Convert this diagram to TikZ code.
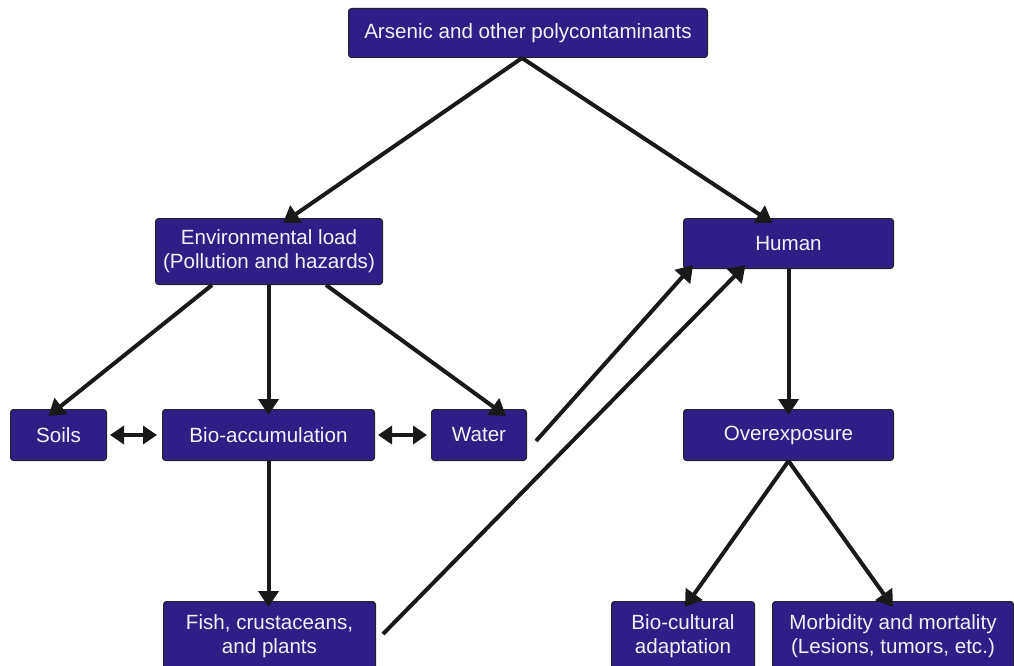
\documentclass[tikz,border=0pt]{standalone}
\usepackage{fontspec}
\setmainfont{Liberation Sans}
\usetikzlibrary{arrows.meta,calc}
\definecolor{boxblue}{RGB}{46,30,134}
\definecolor{boxtext}{RGB}{242,242,246}
\definecolor{boxedge}{RGB}{34,34,40}
\begin{document}
\begin{tikzpicture}[x=1pt,y=-1pt,
  box/.style={draw=boxedge, line width=1pt, fill=boxblue, rounded corners=3pt,
    text=boxtext, font=\fontsize{20.6}{24}\selectfont, align=center,
    inner sep=0pt, anchor=north west},
  conn/.style={line width=4pt, draw=black!90, -{Triangle[length=16pt,width=20pt]}},
  dconn/.style={line width=4pt, draw=black!90, {Triangle[length=14pt,width=18pt]}-{Triangle[length=14pt,width=18pt]}}]
\useasboundingbox (0,0) rectangle (1014,666);
\begin{scope}
\clip (0,0) rectangle (1014,666);
\node[box, minimum width=359pt, minimum height=49pt] (top) at (348,8) {Arsenic and other polycontaminants};
\node[box, minimum width=227pt, minimum height=66pt] (env) at (155,218) {Environmental load\\(Pollution and hazards)};
\node[box, minimum width=210pt, minimum height=50pt] (human) at (683,218) {Human};
\node[box, minimum width=96pt, minimum height=51pt] (soils) at (10,409) {Soils};
\node[box, minimum width=212pt, minimum height=51pt] (bio) at (162,409) {Bio-accumulation};
\node[box, minimum width=95pt, minimum height=51pt] (water) at (431,409) {Water};
\node[box, minimum width=210pt, minimum height=51pt] (over) at (683,409) {Overexposure};
\node[box, minimum width=212pt, minimum height=69pt] (fish) at (163,601) {Fish, crustaceans,\\and plants};
\node[box, minimum width=143pt, minimum height=69pt] (cult) at (611,601) {Bio-cultural\\adaptation};
\node[box, minimum width=241pt, minimum height=69pt] (morb) at (772,601) {Morbidity and mortality\\(Lesions, tumors, etc.)};
\end{scope}
% connectors
\coordinate (topS) at ([xshift=-6pt]top.south);
\draw[conn] (topS) -- ([xshift=14pt,yshift=-5pt]env.north);
\draw[conn] (topS) -- ([xshift=-16pt,yshift=-5pt]human.north);
\draw[conn] ([xshift=57pt]env.south west) -- ([xshift=-10pt,yshift=-7pt]soils.north);
\draw[conn] (bio.north |- env.south) -- ([yshift=-6pt]bio.north);
\draw[conn] ([xshift=-57pt]env.south east) -- ([xshift=27pt,yshift=-7pt]water.north);
\draw[dconn] ([xshift=3pt]soils.east) -- ([xshift=-5pt]bio.west);
\draw[dconn] ([xshift=3pt]bio.east) -- ([xshift=-4pt]water.west);
\draw[conn] ([xshift=9pt,yshift=-6pt]water.east) -- ([xshift=10pt,yshift=4pt]human.south west);
\draw[conn] ([xshift=7pt,yshift=2pt]fish.east) -- ([xshift=-43pt,yshift=4pt]human.south);
\draw[conn] (human.south) -- ([yshift=-6pt]over.north);
\draw[conn] (bio.south) -- ([yshift=-6pt]bio.south |- fish.north);
\draw[conn] (over.south) -- ([xshift=2pt,yshift=-6pt]cult.north);
\draw[conn] (over.south) -- ([xshift=0pt,yshift=-6pt]morb.north);
\end{tikzpicture}
\end{document}
